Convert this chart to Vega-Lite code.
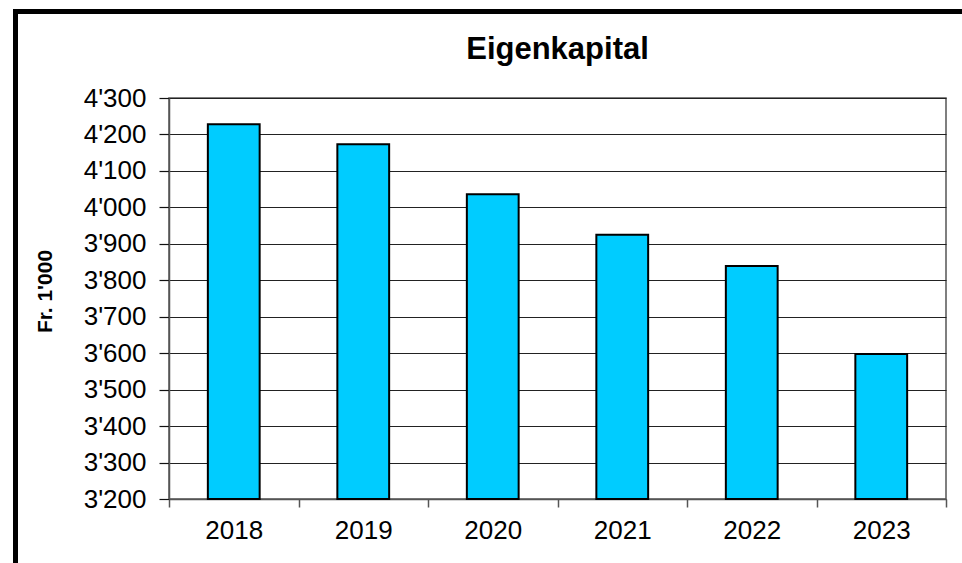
{
  "$schema": "https://vega.github.io/schema/vega-lite/v6.json",
  "padding": {"left": 13, "top": 9, "right": 0, "bottom": 0},
  "background": "white",
  "config": {"font": "Liberation Sans", "view": {"stroke": null}},
  "spacing": 0,
  "hconcat": [
    {
      "width": 5, "height": 554,
      "data": {"values": []},
      "mark": {"type": "rule"},
      "encoding": {},
      "view": {"fill": "black", "stroke": null}
    },
    {
      "spacing": 19,
      "vconcat": [
        {
          "width": 944, "height": 5,
          "data": {"values": []},
          "mark": {"type": "rule"},
          "encoding": {},
          "view": {"fill": "black", "stroke": null}
        },
        {
          "spacing": 14,
          "hconcat": [
            {
              "width": 1, "height": 1,
              "data": {"values": []},
              "mark": {"type": "rule"},
              "encoding": {},
              "view": {"stroke": null}
            },
            {
              "width": 777, "height": 401,
              "title": {"text": "Eigenkapital", "fontSize": 31, "fontWeight": "bold", "color": "black", "offset": 19, "anchor": "middle"},
              "data": {"values": [
                {"Jahr": "2018", "Wert": 4228},
                {"Jahr": "2019", "Wert": 4173},
                {"Jahr": "2020", "Wert": 4036},
                {"Jahr": "2021", "Wert": 3925},
                {"Jahr": "2022", "Wert": 3839},
                {"Jahr": "2023", "Wert": 3598}
              ]},
              "view": {"stroke": "#555", "strokeWidth": 1.5},
              "mark": {"type": "bar", "fill": "#00CCFF", "stroke": "black", "strokeWidth": 2, "width": {"band": 0.4}},
              "encoding": {
                "x": {
                  "field": "Jahr", "type": "ordinal",
                  "scale": {"paddingInner": 0, "paddingOuter": 0},
                  "axis": {"title": null, "labelAngle": 0, "tickBand": "extent", "labelFontSize": 26, "labelColor": "black", "labelPadding": 10, "tickSize": 8, "tickColor": "#555", "tickWidth": 1.5, "domainColor": "#555", "domainWidth": 1.5, "grid": false}
                },
                "y": {
                  "field": "Wert", "type": "quantitative",
                  "scale": {"domain": [3200, 4300], "zero": false, "nice": false},
                  "axis": {
                    "values": [3200, 3300, 3400, 3500, 3600, 3700, 3800, 3900, 4000, 4100, 4200, 4300],
                    "labelExpr": "replace(format(datum.value, ','), ',', \"'\")",
                    "title": "Fr. 1'000", "titleFontSize": 21, "titleFontWeight": "bold", "titleColor": "black", "titlePadding": 28, "titleY": 193,
                    "labelFontSize": 26, "labelColor": "black", "labelPadding": 13,
                    "tickSize": 10, "tickColor": "#111", "tickWidth": 1.2,
                    "gridColor": "#222", "gridWidth": 1.2, "gridOpacity": 1,
                    "domainColor": "#555", "domainWidth": 1.5
                  }
                },
                "y2": {"datum": 3200}
              }
            }
          ]
        }
      ]
    }
  ]
}
